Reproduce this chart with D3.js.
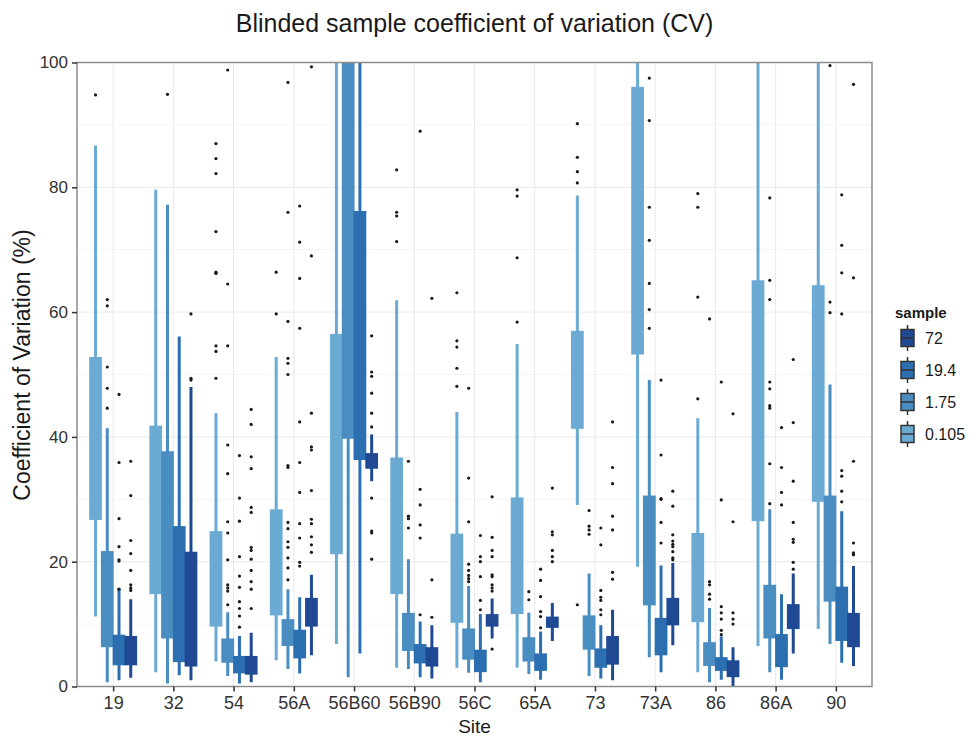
<!DOCTYPE html>
<html>
<head>
<meta charset="utf-8">
<script src="https://cdn.jsdelivr.net/npm/d3@7"></script>
<style>
  body { margin: 0; background: #fff; }
  text { font-family: 'Liberation Sans', Arial, sans-serif; }
</style>
</head>
<body>
<svg class="box_chart" width="980" height="738"></svg>
<script>
const sites = ['19', '32', '54', '56A', '56B60', '56B90', '56C', '65A', '73', '73A', '86', '86A', '90'];
const samples = ['0.105', '1.75', '19.4', '72'];
const sampleColors = ['#6aaad3', '#4a8dc0', '#2c6fb1', '#1f4992'];

// [whisker low, q1, q3, whisker high] per site
const boxes0105 = [
  [11.2, 26.7, 52.8, 86.7], [2.3, 14.8, 41.8, 79.6], [4.0, 9.6, 24.9, 43.8], [4.2, 11.4, 28.4, 52.8],
  [6.8, 21.2, 56.5, 130], [3.0, 14.8, 36.7, 61.9], [3.0, 10.2, 24.5, 44.0], [3.0, 11.6, 30.3, 54.9],
  [29.1, 41.3, 57.0, 78.7], [19.2, 53.2, 96.1, 150], [2.3, 10.3, 24.6, 43.0], [6.5, 26.5, 65.1, 120],
  [9.2, 29.6, 64.3, 115]
];
const boxes175 = [
  [0.7, 6.3, 21.7, 41.4], [0.5, 7.7, 37.7, 77.2], [1.7, 3.8, 7.7, 11.9], [2.8, 6.5, 10.8, 15.6],
  [1.5, 39.7, 115, 150], [2.8, 5.7, 11.8, 20.4], [2.2, 4.3, 9.3, 16.1], [2.0, 4.0, 7.9, 11.8],
  [1.7, 5.9, 11.4, 18.1], [4.7, 13.0, 30.6, 49.1], [0.7, 3.3, 7.1, 12.6], [2.3, 7.7, 16.3, 28.4],
  [6.8, 13.6, 30.6, 48.4]
];
const boxes194 = [
  [1.0, 3.4, 8.3, 15.8], [1.8, 3.9, 25.7, 56.1], [0.5, 2.1, 4.9, 8.1], [2.1, 4.5, 9.1, 14.3],
  [5.3, 36.3, 76.2, 130], [1.5, 3.7, 6.8, 10.4], [0.7, 2.3, 5.9, 11.6], [1.1, 2.5, 5.3, 8.8],
  [1.3, 3.0, 6.1, 9.8], [2.3, 5.0, 11.0, 19.4], [1.1, 2.5, 4.7, 8.0], [1.1, 3.1, 8.4, 14.8],
  [3.8, 7.3, 16.0, 28.1]
];
const boxes72 = [
  [1.4, 3.4, 8.1, 14.0], [1.0, 3.2, 21.6, 48.0], [0.7, 1.9, 4.9, 8.6], [5.0, 9.6, 14.2, 17.9],
  [32.9, 34.9, 37.4, 40.4], [1.3, 3.2, 6.3, 9.8], [7.7, 9.6, 11.6, 14.1], [7.3, 9.4, 11.2, 13.4],
  [1.0, 3.5, 8.1, 12.3], [6.6, 9.8, 14.2, 19.8], [0, 1.5, 4.2, 6.3], [5.3, 9.2, 13.2, 18.1],
  [3.3, 6.3, 11.8, 19.3]
];

const outliers0105 = [
  [94.8], [], [87.0, 84.6, 82.2, 72.9, 66.4, 66.2, 54.6, 53.7, 49.4], [66.4, 59.7],
  [], [82.8, 76.0, 75.4, 71.3], [63.1, 55.4, 54.4, 51.0, 48.1], [79.6, 78.6, 68.7, 58.4],
  [90.2, 84.8, 82.5, 80.7, 13.1], [], [79.0, 76.8, 62.4, 46.1], [], []
];
const outliers175 = [
  [62.0, 61.0, 51.2, 47.8, 44.6], [94.9],
  [98.8, 64.5, 54.6, 38.7, 34.1, 26.4, 24.6, 20.3, 16.3, 15.8, 15.3, 13.1],
  [96.8, 76.0, 58.5, 52.6, 51.8, 50.0, 35.4, 35.1, 26.3, 25.3, 23.2, 22.3, 20.6, 19.0, 17.1],
  [], [36.1, 27.3, 26.9, 25.4], [47.8, 33.4, 26.4, 19.6, 18.6, 17.8, 17.3, 16.8], [15.2, 13.9],
  [28.2, 25.7, 25.1, 24.4], [97.5, 90.7, 76.8, 71.5, 64.6, 60.4, 57.4], [58.9, 16.8, 16.3, 14.8, 14.0],
  [78.3, 65.1, 62.0, 48.8, 47.7, 45.0, 44.6, 35.7, 29.3], [99.5, 61.6, 59.9]
];
const outliers194 = [
  [46.8, 35.9, 26.9, 22.4, 20.3, 20.1, 15.6], [],
  [37.0, 30.2, 26.5, 20.8, 17.7, 15.9, 13.6, 12.5, 11.3, 9.5],
  [77.0, 71.2, 65.4, 57.4, 42.4, 35.9, 31.1, 26.1, 23.8, 19.9, 19.3],
  [], [89.0, 31.6, 29.1, 25.9, 23.8, 11.5], [24.2, 20.8, 20.0, 17.6, 13.8, 12.3],
  [18.8, 17.0, 14.4, 12.0, 11.2, 9.4], [25.4, 22.7, 15.4, 14.3, 13.8, 12.3, 11.5],
  [49.1, 37.1, 30.1, 30.0, 26.3, 23.0], [48.8, 29.9, 12.8, 11.8, 10.8, 9.0, 8.3],
  [41.5, 35.1, 31.1, 29.1], [78.8, 70.7, 66.3, 59.7, 34.6, 33.7, 31.3, 29.6]
];
const outliers72 = [
  [36.1, 30.6, 23.4, 21.3, 18.6, 16.3, 15.8, 15.4], [59.7, 49.4, 49.1],
  [44.4, 42.0, 36.8, 34.9, 28.7, 27.9, 22.3, 21.8, 20.4, 18.6, 16.8, 15.6, 12.5],
  [99.3, 69.0, 43.8, 38.4, 37.9, 31.4, 26.8, 26.1, 24.0, 22.7, 21.5],
  [56.2, 50.4, 49.7, 47.0, 43.8, 41.6, 30.2, 24.9, 24.6, 20.4], [62.2, 17.1, 11.1],
  [30.4, 23.9, 21.8, 20.8, 17.9, 17.6, 16.3, 15.8, 15.3, 6.0], [31.8, 24.8, 24.3, 21.8, 20.8, 20.0],
  [42.4, 35.1, 32.5, 27.3, 25.1, 18.3, 17.2], [31.3, 28.9, 24.3, 23.3, 22.8, 22.4, 21.6, 20.6, 20.3],
  [43.7, 26.4, 11.8, 10.8, 10.0], [52.4, 42.3, 32.9, 26.3, 23.6, 23.1, 19.9, 18.8],
  [96.5, 65.5, 36.1, 23.0, 21.4, 21.1]
];

const yTicks = [0, 20, 40, 60, 80, 100];
const yMinor = [10, 30, 50, 70, 90];

const boxSets = [boxes0105, boxes175, boxes194, boxes72];
const outlierSets = [outliers0105, outliers175, outliers194, outliers72];

const chart = d3.select('.box_chart');
const margin = { left: 77, top: 62.5, right: 108, bottom: 51.5 };
const chartWidth = +chart.attr('width') - margin.left - margin.right;
const chartHeight = +chart.attr('height') - margin.top - margin.bottom;

const x = d3.scalePoint()
    .domain(sites)
    .range([0, chartWidth])
    .padding(0.6);

const y = d3.scaleLinear()
    .domain([0, 100])
    .range([chartHeight, 0]);

const dodge = d3.scaleBand()
    .domain(samples)
    .range([-x.step() * 0.39, x.step() * 0.39]);

const boxWidth = dodge.bandwidth() + 1;

const g = chart.append('g')
    .attr('transform', `translate(${margin.left} ${margin.top})`);

chart.append('defs').append('clipPath')
    .attr('id', 'panel-clip')
    .append('rect')
    .attr('width', chartWidth)
    .attr('height', chartHeight);

// grid
g.selectAll('.minor')
    .data(yMinor)
    .join('line')
    .attr('x1', 0).attr('x2', chartWidth)
    .attr('y1', d => y(d)).attr('y2', d => y(d))
    .attr('stroke', '#f4f4f4');

g.selectAll('.major')
    .data(yTicks)
    .join('line')
    .attr('x1', 0).attr('x2', chartWidth)
    .attr('y1', d => y(d)).attr('y2', d => y(d))
    .attr('stroke', '#e9e9e9');

g.selectAll('.vgrid')
    .data(sites)
    .join('line')
    .attr('x1', d => x(d)).attr('x2', d => x(d))
    .attr('y1', 0).attr('y2', chartHeight)
    .attr('stroke', '#e9e9e9');

const plot = g.append('g').attr('clip-path', 'url(#panel-clip)');

samples.forEach((s, si) => {
    const color = sampleColors[si];
    const rows = sites.map((site, i) => ({ site, stats: boxSets[si][i], pts: outlierSets[si][i] }));
    const cx = d => x(d.site) + dodge(s) + dodge.bandwidth() / 2;

    const sg = plot.append('g');

    sg.selectAll('.whisker')
        .data(rows)
        .join('line')
        .attr('x1', cx).attr('x2', cx)
        .attr('y1', d => y(d.stats[0]))
        .attr('y2', d => y(d.stats[3]))
        .attr('stroke', color)
        .attr('stroke-width', 3);

    sg.selectAll('.box')
        .data(rows)
        .join('rect')
        .attr('x', d => cx(d) - boxWidth / 2)
        .attr('width', boxWidth)
        .attr('y', d => y(d.stats[2]))
        .attr('height', d => y(d.stats[1]) - y(d.stats[2]))
        .attr('fill', color);

    sg.selectAll('.pt')
        .data(rows.flatMap(d => d.pts.map(v => ({ site: d.site, v }))))
        .join('circle')
        .attr('cx', cx)
        .attr('cy', d => y(d.v))
        .attr('r', 1.6)
        .attr('fill', '#1a1a1a');
});

// panel border
g.append('rect')
    .attr('width', chartWidth)
    .attr('height', chartHeight)
    .attr('fill', 'none')
    .attr('stroke', '#8c8c8c')
    .attr('stroke-width', 1.5);

const yAxisG = g.append('g')
    .call(d3.axisLeft(y).tickValues(yTicks).tickSize(5).tickPadding(4));
yAxisG.select('.domain').remove();
yAxisG.selectAll('line').attr('stroke', '#333').attr('stroke-width', 1.5);
yAxisG.selectAll('text')
    .attr('font-size', 17)
    .attr('fill', '#333')
    .style('font-family', "'Liberation Sans', Arial, sans-serif");

const xAxisG = g.append('g')
    .attr('transform', `translate(0, ${chartHeight})`)
    .call(d3.axisBottom(x).tickSize(5).tickPadding(5));
xAxisG.select('.domain').remove();
xAxisG.selectAll('line').attr('stroke', '#333').attr('stroke-width', 1.5);
xAxisG.selectAll('text')
    .attr('font-size', 18)
    .attr('fill', '#333')
    .style('font-family', "'Liberation Sans', Arial, sans-serif");

chart.append('text')
    .attr('x', margin.left + chartWidth / 2)
    .attr('y', 32)
    .attr('text-anchor', 'middle')
    .attr('font-size', 25)
    .attr('fill', '#1a1a1a')
    .text('Blinded sample coefficient of variation (CV)');

chart.append('text')
    .attr('x', margin.left + chartWidth / 2)
    .attr('y', 733)
    .attr('text-anchor', 'middle')
    .attr('font-size', 19)
    .attr('fill', '#1a1a1a')
    .text('Site');

chart.append('text')
    .attr('transform', 'translate(30, 365) rotate(-90)')
    .attr('text-anchor', 'middle')
    .attr('font-size', 23)
    .attr('fill', '#1a1a1a')
    .text('Coefficient of Variation (%)');

// legend, reversed order as in ggplot
const legend = chart.append('g').attr('transform', 'translate(893, 318)');
legend.append('text')
    .attr('x', 2)
    .attr('font-size', 15)
    .attr('font-weight', 'bold')
    .attr('fill', '#1a1a1a')
    .text('sample');

const legendItems = samples.map((s, i) => ({ s, color: sampleColors[i] })).reverse();

const item = legend.selectAll('.item')
    .data(legendItems)
    .join('g')
    .attr('transform', (d, i) => `translate(0, ${7 + i * 32})`);

item.append('line')
    .attr('x1', 14.5).attr('x2', 14.5)
    .attr('y1', 0).attr('y2', 26)
    .attr('stroke', '#333')
    .attr('stroke-width', 1.5);

item.append('rect')
    .attr('x', 8).attr('y', 4.5)
    .attr('width', 13).attr('height', 17)
    .attr('fill', d => d.color)
    .attr('stroke', '#333')
    .attr('stroke-width', 1.5);

item.append('line')
    .attr('x1', 8).attr('x2', 21)
    .attr('y1', 13).attr('y2', 13)
    .attr('stroke', '#333')
    .attr('stroke-width', 1.5);

item.append('text')
    .attr('x', 32)
    .attr('y', 19)
    .attr('font-size', 16)
    .attr('fill', '#1a1a1a')
    .text(d => d.s);
</script>
</body>
</html>
